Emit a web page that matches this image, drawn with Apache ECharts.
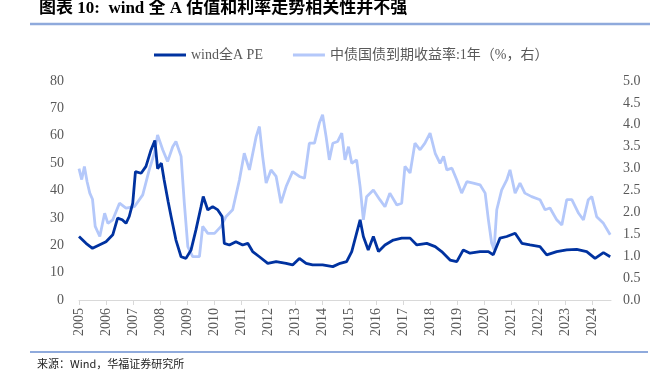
<!DOCTYPE html>
<html>
<head>
<meta charset="utf-8">
<script src="https://cdn.jsdelivr.net/npm/echarts@6/dist/echarts.min.js"></script>
<style>
  html, body { margin: 0; padding: 0; background: #fff; }
  #chart { width: 662px; height: 375px; }
</style>
</head>
<body>
<div id="chart"></div>
<script>
// 年份刻度
var years = [2005, 2006, 2007, 2008, 2009, 2010, 2011, 2012, 2013, 2014,
  2015, 2016, 2017, 2018, 2019, 2020, 2021, 2022, 2023, 2024];

// wind全A PE（左轴）
var peTime = [2005.0, 2005.26, 2005.5, 2005.75, 2006.0, 2006.25, 2006.43, 2006.6, 2006.74, 2006.86,
  2006.99, 2007.09, 2007.3, 2007.48, 2007.67, 2007.81, 2007.91, 2008.05, 2008.15, 2008.3,
  2008.41, 2008.59, 2008.78, 2008.96, 2009.15, 2009.33, 2009.52, 2009.6, 2009.77, 2009.95,
  2010.14, 2010.3, 2010.38, 2010.57, 2010.81, 2011.06, 2011.25, 2011.43, 2011.68, 2011.99,
  2012.3, 2012.67, 2012.91, 2013.16, 2013.41, 2013.65, 2014.02, 2014.4, 2014.67, 2014.91,
  2015.1, 2015.28, 2015.41, 2015.53, 2015.71, 2015.9, 2016.09, 2016.33, 2016.64, 2016.95,
  2017.26, 2017.51, 2017.88, 2018.19, 2018.43, 2018.74, 2018.99, 2019.23, 2019.48, 2019.85,
  2020.16, 2020.34, 2020.59, 2020.84, 2021.15, 2021.4, 2021.7, 2022.07, 2022.32, 2022.69,
  2023.06, 2023.43, 2023.8, 2024.11, 2024.42, 2024.67];
var peValue = [23.2, 20.7, 18.9, 20.1, 21.3, 23.8, 29.9, 29.3, 28.0, 30.5,
  35.4, 46.9, 46.3, 48.8, 54.9, 58.3, 48.0, 50.0, 44.0, 36.0,
  30.5, 21.9, 15.8, 15.2, 18.3, 25.6, 34.1, 37.8, 32.9, 34.1,
  32.9, 30.5, 20.7, 20.1, 21.3, 20.1, 20.7, 17.7, 15.8, 13.4,
  14.0, 13.4, 12.8, 15.2, 13.4, 12.8, 12.8, 12.2, 13.4, 14.0,
  17.7, 24.4, 29.3, 23.2, 18.3, 23.2, 17.7, 20.1, 21.9, 22.6,
  22.6, 20.1, 20.7, 19.5, 17.7, 14.6, 14.0, 18.3, 17.1, 17.7,
  17.7, 16.5, 22.6, 23.2, 24.4, 20.7, 20.1, 19.5, 16.5, 17.7,
  18.3, 18.5, 17.7, 15.2, 17.3, 15.8];

// 中债国债到期收益率:1年（右轴）
var rateTime = [2005.0, 2005.1, 2005.2, 2005.3, 2005.4, 2005.5, 2005.6, 2005.77, 2005.95, 2006.07,
  2006.25, 2006.5, 2006.74, 2007.05, 2007.36, 2007.6, 2007.79, 2007.91, 2008.1, 2008.28,
  2008.47, 2008.59, 2008.78, 2008.9, 2009.03, 2009.21, 2009.46, 2009.58, 2009.77, 2010.02,
  2010.26, 2010.44, 2010.69, 2010.94, 2011.12, 2011.31, 2011.56, 2011.68, 2011.8, 2011.93,
  2012.11, 2012.3, 2012.48, 2012.67, 2012.91, 2013.16, 2013.35, 2013.53, 2013.72, 2013.9,
  2014.02, 2014.15, 2014.27, 2014.4, 2014.58, 2014.73, 2014.85, 2014.98, 2015.1, 2015.28,
  2015.41, 2015.53, 2015.65, 2015.9, 2016.14, 2016.33, 2016.51, 2016.77, 2016.95, 2017.07,
  2017.26, 2017.44, 2017.63, 2017.81, 2018.0, 2018.19, 2018.37, 2018.5, 2018.62, 2018.81,
  2018.99, 2019.17, 2019.36, 2019.6, 2019.85, 2020.04, 2020.16, 2020.28, 2020.37, 2020.47,
  2020.65, 2020.84, 2020.96, 2021.15, 2021.33, 2021.51, 2021.76, 2022.07, 2022.26, 2022.44,
  2022.69, 2022.88, 2023.06, 2023.25, 2023.5, 2023.68, 2023.86, 2023.99, 2024.17, 2024.42,
  2024.67];
var rateValue = [3.0, 2.75, 3.05, 2.7, 2.44, 2.3, 1.68, 1.45, 1.98, 1.75,
  1.83, 2.21, 2.1, 2.13, 2.4, 2.97, 3.35, 3.77, 3.43, 3.16,
  3.5, 3.62, 3.28, 2.21, 1.22, 0.99, 0.99, 1.68, 1.52, 1.52,
  1.68, 1.9, 2.06, 2.74, 3.35, 2.97, 3.73, 3.96, 3.28, 2.67,
  2.97, 2.82, 2.21, 2.59, 2.93, 2.82, 2.78, 3.58, 3.58, 4.04,
  4.23, 3.73, 3.2, 3.58, 3.62, 3.81, 3.2, 3.5, 3.12, 3.2,
  2.59, 1.83, 2.36, 2.51, 2.29, 2.13, 2.44, 2.17, 2.21, 3.05,
  2.9, 3.58, 3.43, 3.58, 3.81, 3.35, 3.12, 3.28, 2.97, 3.01,
  2.74, 2.44, 2.7, 2.67, 2.63, 2.44, 1.83, 1.3, 1.15, 2.06,
  2.51, 2.74, 2.97, 2.44, 2.67, 2.44, 2.36, 2.29, 2.06, 2.1,
  1.83, 1.71, 2.29, 2.29, 1.98, 1.83, 2.29, 2.36, 1.9, 1.75,
  1.49];

var peName = "wind全A PE";
var rateName = "中债国债到期收益率:1年（%，右）";

function pairs(t, v) {
  return t.map(function (x, i) { return [x, v[i]]; });
}

var serif = "'Liberation Serif', 'Times New Roman', 'Noto Sans CJK SC', serif";
var labelColor = "#595959";
var ruleColor = "#8FAADC";

var chart = echarts.init(document.getElementById("chart"));
var option = {
  animation: false,
  title: {
    text: "图表 10:  wind 全 A 估值和利率走势相关性并不强",
    left: 39,
    top: 0,
    padding: 0,
    textStyle: {
      fontFamily: serif,
      fontSize: 17,
      fontWeight: "bold",
      color: "#000"
    }
  },
  legend: {
    data: [peName, rateName],
    left: 149,
    top: 43,
    icon: "rect",
    itemWidth: 32,
    itemHeight: 3,
    itemGap: 30,
    textStyle: {
      fontFamily: serif,
      fontSize: 14,
      color: labelColor
    }
  },
  grid: {
    left: 79,
    right: 51,
    top: 81,
    bottom: 75
  },
  xAxis: {
    type: "value",
    min: 2005,
    max: 2024.7,
    axisLine: { show: true, lineStyle: { color: "#D9D9D9", width: 1 } },
    axisTick: {
      show: true,
      length: 5,
      customValues: years,
      lineStyle: { color: "#D9D9D9" }
    },
    splitLine: { show: false },
    axisLabel: {
      customValues: years,
      rotate: 90,
      margin: 8,
      fontFamily: serif,
      fontSize: 14,
      color: labelColor,
      formatter: function (v) { return String(v); }
    }
  },
  yAxis: [
    {
      type: "value",
      min: 0,
      max: 80,
      interval: 10,
      axisLine: { show: false },
      axisTick: { show: false },
      splitLine: { show: false },
      axisLabel: {
        margin: 15,
        fontFamily: serif,
        fontSize: 14,
        color: labelColor
      }
    },
    {
      type: "value",
      min: 0,
      max: 5,
      interval: 0.5,
      axisLine: { show: false },
      axisTick: { show: false },
      splitLine: { show: false },
      axisLabel: {
        margin: 12,
        fontFamily: serif,
        fontSize: 14,
        color: labelColor,
        formatter: function (v) { return v.toFixed(1); }
      }
    }
  ],
  series: [
    {
      name: rateName,
      type: "line",
      yAxisIndex: 1,
      showSymbol: false,
      symbol: "none",
      color: "#B4C8FA",
      lineStyle: { color: "#B4C8FA", width: 2.8 },
      data: pairs(rateTime, rateValue)
    },
    {
      name: peName,
      type: "line",
      yAxisIndex: 0,
      showSymbol: false,
      symbol: "none",
      color: "#0032A0",
      lineStyle: { color: "#0032A0", width: 2.8 },
      data: pairs(peTime, peValue)
    }
  ],
  graphic: [
    {
      type: "line",
      shape: { x1: 30, y1: 24, x2: 650, y2: 24 },
      style: { stroke: ruleColor, lineWidth: 2.5 }
    },
    {
      type: "line",
      shape: { x1: 30, y1: 352, x2: 648, y2: 352 },
      style: { stroke: ruleColor, lineWidth: 2 }
    },
    {
      type: "text",
      left: 37,
      top: 358,
      style: {
        text: "来源：Wind，华福证券研究所",
        fontFamily: "'Noto Sans CJK SC', sans-serif",
        fontSize: 11,
        fill: "#222"
      }
    }
  ]
};
chart.setOption(option);
</script>
</body>
</html>
